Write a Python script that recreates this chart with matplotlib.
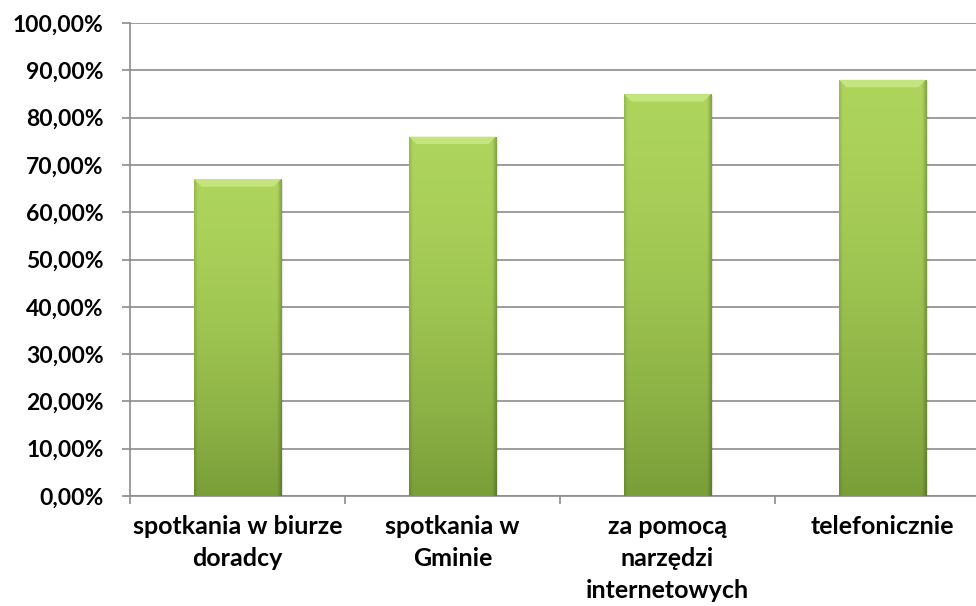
import numpy as np
import matplotlib
matplotlib.use("Agg")
import matplotlib.pyplot as plt
from matplotlib.ticker import FuncFormatter

categories = ["spotkania w biurze\ndoradcy", "spotkania w\nGminie",
              "za pomocą\nnarzędzi\ninternetowych", "telefonicznie"]
values = [0.67, 0.76, 0.85, 0.88]

plt.rcParams['font.family'] = ['Lato', 'DejaVu Sans']

fig = plt.figure(figsize=(9.76, 6.06), dpi=100)
ax = fig.add_axes([130/976, 1 - 496/606, 860/976, 473/606])

grid_col = "#8c8c8c"
x = np.arange(len(categories))
bw = 0.405

# gradient image for bars: light top, darker bottom, shaded sides
ny, nx = 200, 80
v = np.linspace(0, 1, ny)[:, None]
h = np.linspace(0, 1, nx)[None, :]
top = np.array([0.68, 0.83, 0.36])
bot = np.array([0.48, 0.62, 0.22])
vv = v ** 1.6
img = top * (1 - vv[..., None]) + bot * vv[..., None]
edge = 1 - 0.22 * np.clip((h - 0.95) / 0.05, 0, 1) - 0.12 * np.clip((0.04 - h) / 0.04, 0, 1)
img = img * edge[..., None]
img = np.clip(img, 0, 1)

bars = ax.bar(x, values, width=bw, color="#a2c851", zorder=3, edgecolor="none")
for b in bars:
    x0, w, hgt = b.get_x(), b.get_width(), b.get_height()
    im = ax.imshow(img, extent=[x0, x0 + w, 0, hgt], origin="upper",
                   aspect="auto", zorder=4, interpolation="bilinear")
    im.set_clip_path(b)
    # bevel highlight at top
    bev = 0.016
    ax.fill([x0, x0 + w, x0 + w - 0.035, x0 + 0.035],
            [hgt, hgt, hgt - bev, hgt - bev], color="#c9e887", alpha=0.85,
            zorder=5, lw=0)
    # soft shadow on right
    ax.fill([x0 + w, x0 + w + 0.01, x0 + w + 0.01, x0 + w],
            [-0.004, -0.004, hgt - 0.005, hgt], color="#000000", alpha=0.1, zorder=2, lw=0)

ax.set_xlim(-0.5, len(categories) - 0.5)
ax.set_ylim(0, 1.0)
ax.set_yticks(np.arange(0, 1.01, 0.1))
ax.yaxis.set_major_formatter(FuncFormatter(lambda v, p: f"{v*100:.2f}%".replace(".", ",")))
ax.set_xticks(x)
ax.set_xticklabels(categories, fontsize=18, fontweight="bold", linespacing=1.45, va="top")
ax.set_xticks(np.arange(-0.5, len(categories)), minor=True)
ax.tick_params(axis="x", which="major", length=0, pad=14)
ax.tick_params(axis="x", which="minor", length=6, color=grid_col, width=1.2)
ax.tick_params(axis="y", length=6, color=grid_col, width=1.2, pad=13)
for lab in ax.get_yticklabels():
    lab.set_fontsize(16.5)
    lab.set_fontweight("bold")

ax.yaxis.grid(True, color=grid_col, lw=1.2, zorder=0)
ax.set_axisbelow(True)
for s in ["top", "right"]:
    ax.spines[s].set_visible(False)
for s in ["left", "bottom"]:
    ax.spines[s].set_color(grid_col)
    ax.spines[s].set_linewidth(1.2)

fig.savefig("out.png", dpi=100)
